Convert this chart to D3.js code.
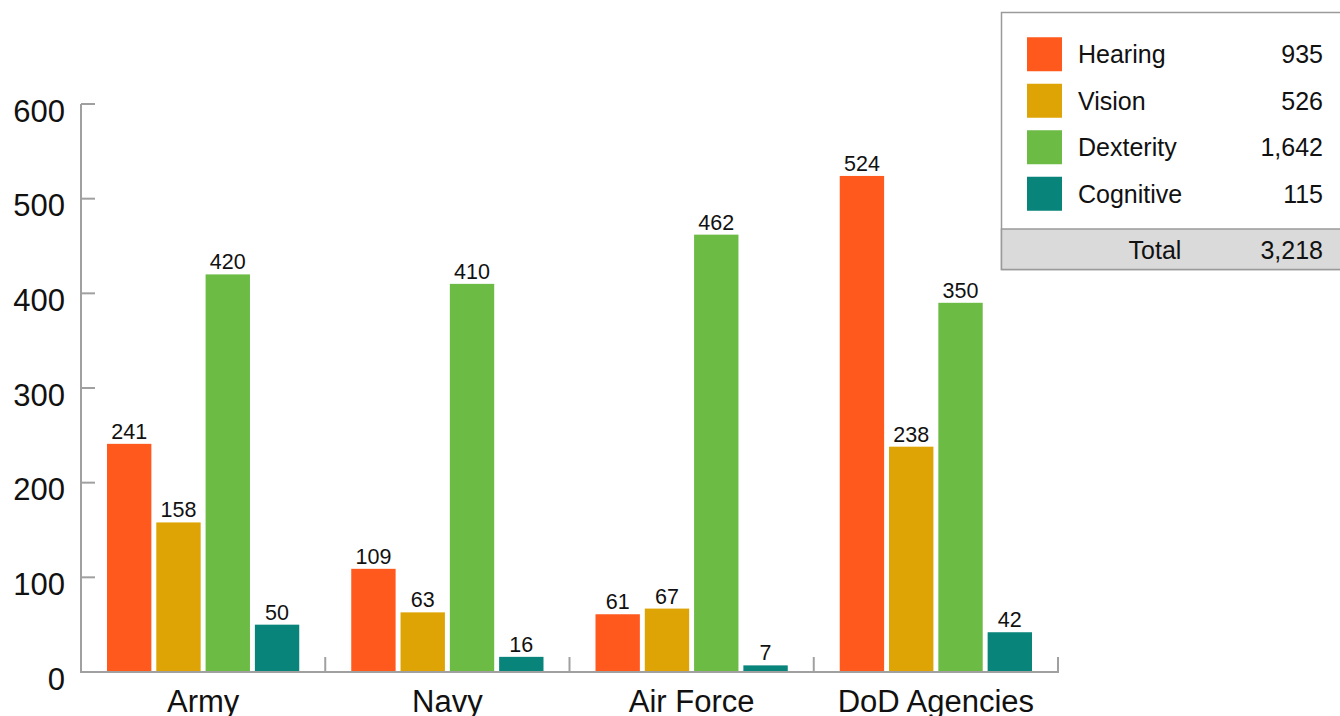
<!DOCTYPE html>
<html><head><meta charset="utf-8">
<script src="https://cdn.jsdelivr.net/npm/d3@7"></script>
<style>
html,body{margin:0;padding:0;background:#fff;}
svg{display:block;font-family:"Liberation Sans",Arial,Helvetica,sans-serif;}
</style></head>
<body><svg id="c" width="1340" height="716"></svg>
<script>
const categories = ["Army", "Navy", "Air Force", "DoD Agencies"];
const seriesNames = ["Hearing", "Vision", "Dexterity", "Cognitive"];
const seriesColors = ["#FF591E", "#DEA304", "#6BBB45", "#08847A"];
// bar heights as drawn in the picture
const hearing   = [241, 109, 61, 524];
const vision    = [158, 63, 67, 238];
const dexterity = [420, 410, 462, 390];
const cognitive = [50, 16, 7, 42];
// value labels as printed
const hearingLabels   = ["241", "109", "61", "524"];
const visionLabels    = ["158", "63", "67", "238"];
const dexterityLabels = ["420", "410", "462", "350"];
const cognitiveLabels = ["50", "16", "7", "42"];
const yTicks = [0, 100, 200, 300, 400, 500, 600];
const legendTotals = ["935", "526", "1,642", "115"];
const totalLabel = "Total";
const totalValue = "3,218";

const seriesValues = [hearing, vision, dexterity, cognitive];
const seriesLabels = [hearingLabels, visionLabels, dexterityLabels, cognitiveLabels];

const svg = d3.select("#c");
const axisColor = "#a0a0a0";

const x0 = d3.scaleBand().domain(categories).range([81, 1058]).padding(0);
const x1 = d3.scaleBand().domain(seriesNames).range([26, x0.bandwidth() - 26]).paddingInner(0.1).paddingOuter(0);
const y = d3.scaleLinear().domain([0, 600]).range([672, 104]);

// y axis
const yAxis = svg.append("g");
yAxis.append("line").attr("x1", 81).attr("x2", 81).attr("y1", y(600)).attr("y2", y(0))
  .attr("stroke", axisColor).attr("stroke-width", 2);
yAxis.selectAll("line.tk").data(yTicks.filter(d => d > 0)).join("line").attr("class", "tk")
  .attr("x1", 81).attr("x2", 95).attr("y1", d => y(d)).attr("y2", d => y(d))
  .attr("stroke", axisColor).attr("stroke-width", 2);
yAxis.selectAll("text").data(yTicks).join("text")
  .attr("x", 65).attr("y", d => y(d) + 7).attr("text-anchor", "end")
  .attr("dominant-baseline", "central").attr("font-size", 31).attr("fill", "#111")
  .text(d => d);

// bars
const groups = svg.selectAll("g.cat").data(categories).join("g").attr("class", "cat")
  .attr("transform", d => `translate(${x0(d)},0)`);
groups.each(function(cat, ci) {
  const g = d3.select(this);
  const items = seriesNames.map((s, si) => ({s, si, v: seriesValues[si][ci], lab: seriesLabels[si][ci]}));
  g.selectAll("rect").data(items).join("rect")
    .attr("x", d => x1(d.s)).attr("width", x1.bandwidth())
    .attr("y", d => y(d.v)).attr("height", d => y(0) - y(d.v))
    .attr("fill", d => seriesColors[d.si]);
  g.selectAll("text").data(items).join("text")
    .attr("x", d => x1(d.s) + x1.bandwidth() / 2).attr("y", d => y(d.v) - 5)
    .attr("text-anchor", "middle").attr("font-size", 21.5).attr("fill", "#111")
    .text(d => d.lab);
});

// x axis
const xAxis = svg.append("g");
xAxis.append("line").attr("x1", 80).attr("x2", 1059).attr("y1", y(0)).attr("y2", y(0))
  .attr("stroke", axisColor).attr("stroke-width", 2);
const bounds = categories.map(c => x0(c) + x0.bandwidth());
xAxis.selectAll("line.sep").data(bounds).join("line").attr("class", "sep")
  .attr("x1", d => d).attr("x2", d => d).attr("y1", y(0) - 15).attr("y2", y(0))
  .attr("stroke", axisColor).attr("stroke-width", 2);
xAxis.selectAll("text").data(categories).join("text")
  .attr("x", d => x0(d) + x0.bandwidth() / 2).attr("y", 712)
  .attr("text-anchor", "middle").attr("font-size", 31).attr("fill", "#111")
  .text(d => d);

// legend
const lg = svg.append("g");
lg.append("rect").attr("x", 1001.5).attr("y", 12.5).attr("width", 345).attr("height", 257)
  .attr("fill", "#fff").attr("stroke", "#9a9a9a").attr("stroke-width", 1.5);
lg.append("rect").attr("x", 1001.5).attr("y", 229).attr("width", 345).attr("height", 40.5)
  .attr("fill", "#dadada").attr("stroke", "#9a9a9a").attr("stroke-width", 1.5);
const ly = d3.scaleBand().domain(seriesNames).range([31, 217]);
const rows = lg.selectAll("g.row").data(seriesNames).join("g").attr("class", "row")
  .attr("transform", d => `translate(0,${ly(d) + ly.bandwidth() / 2})`);
rows.append("rect").attr("x", 1027).attr("y", -17).attr("width", 35).attr("height", 34)
  .attr("fill", (d, i) => seriesColors[i]);
rows.append("text").attr("x", 1078).attr("y", 0).attr("dominant-baseline", "central")
  .attr("font-size", 25).attr("fill", "#111").text(d => d);
rows.append("text").attr("x", 1323).attr("y", 0).attr("dominant-baseline", "central")
  .attr("text-anchor", "end").attr("font-size", 25).attr("fill", "#111").text((d, i) => legendTotals[i]);
lg.append("text").attr("x", 1155).attr("y", 250).attr("dominant-baseline", "central")
  .attr("text-anchor", "middle").attr("font-size", 25).attr("fill", "#111").text(totalLabel);
lg.append("text").attr("x", 1323).attr("y", 250).attr("dominant-baseline", "central")
  .attr("text-anchor", "end").attr("font-size", 25).attr("fill", "#111").text(totalValue);
</script></body></html>
